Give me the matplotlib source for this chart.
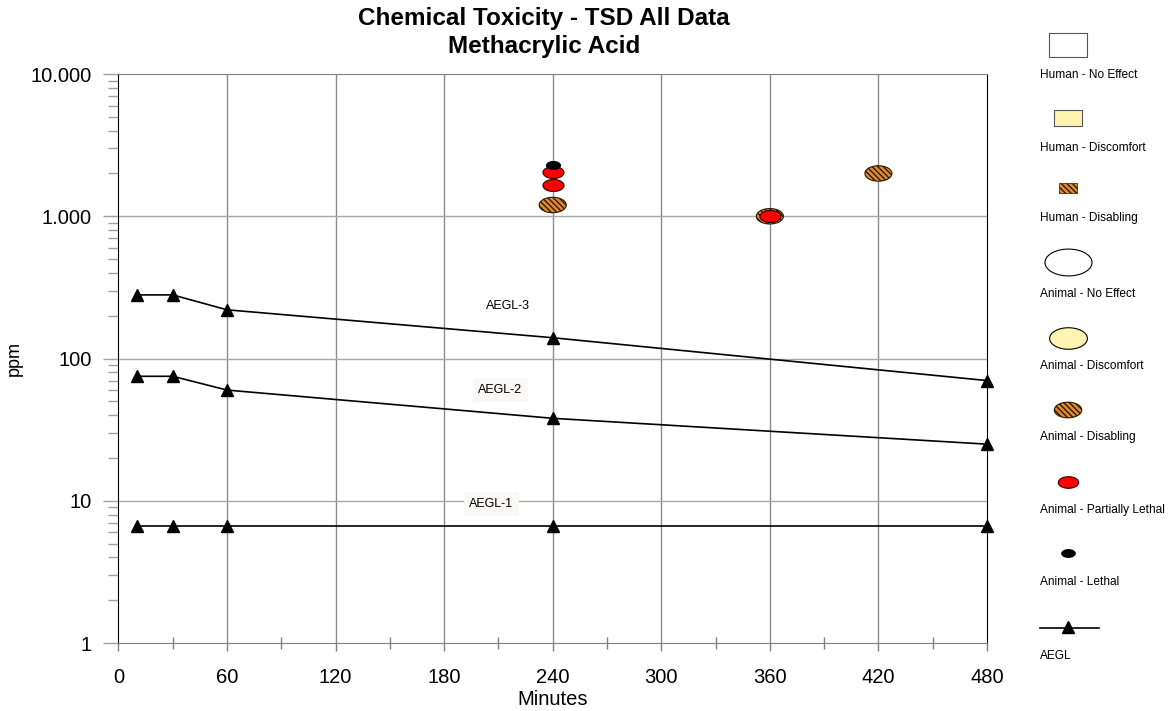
import numpy as np
import matplotlib.pyplot as plt
from matplotlib.path import Path
from matplotlib.ticker import FixedLocator, FuncFormatter

plt.rcParams['font.family'] = ['Liberation Sans', 'DejaVu Sans']
plt.rcParams['hatch.color'] = '#3a2208'
plt.rcParams['hatch.linewidth'] = 1.0

# AEGL levels (ppm) by exposure time (minutes)
aegl_minutes = [10, 30, 60, 240, 480]
aegl_1 = [6.6, 6.6, 6.6, 6.6, 6.6]
aegl_2 = [75, 75, 60, 38, 25]
aegl_3 = [280, 280, 220, 140, 70]

# toxicity observations
disabling_min = [240, 360, 420]
disabling_ppm = [1200, 1000, 2000]
part_lethal_min = [240, 240, 360]
part_lethal_ppm = [1650, 2050, 1000]
lethal_min = [240]
lethal_ppm = [2300]

x_ticks = [0, 60, 120, 180, 240, 300, 360, 420, 480]
y_ticks = [1, 10, 100, 1000, 10000]

BROWN = '#e38b2c'
RED = '#ff0000'
YELLOW = '#fff5b0'
HATCH = '\\\\\\\\\\\\'

# ellipse marker (wider than tall)
t = np.linspace(0, 2 * np.pi, 60)
ell = Path(np.column_stack([np.cos(t), 0.57 * np.sin(t)]), closed=True)
rect = Path([(-1, -0.6), (1, -0.6), (1, 0.6), (-1, 0.6), (-1, -0.6)], closed=True)

fig = plt.figure(figsize=(11.74, 7.11), dpi=100)
ax = fig.add_axes([0.1009, 0.0956, 0.7398, 0.8003])

ax.set_yscale('log')
ax.set_xlim(0, 480)
ax.set_ylim(1, 10000)

# grid
for v in x_ticks[1:-1]:
    ax.axvline(v, color='#8c8c8c', lw=1.0, zorder=1)
for v in y_ticks[1:-1]:
    ax.axhline(v, color='#a8a8a8', lw=1.0, zorder=1)

# AEGL lines
for vals in [aegl_1, aegl_2, aegl_3]:
    ax.plot(aegl_minutes, vals, color='black', lw=1.2, marker='^', ms=8,
            mfc='black', mec='black', zorder=3, clip_on=False)

ax.text(215, 234, 'AEGL-3', fontsize=9, ha='center', va='center', zorder=4)
ax.text(211, 60, 'AEGL-2', fontsize=9, ha='center', va='center', zorder=4,
        bbox=dict(boxstyle='square,pad=0.45', fc='#faf8f5', ec='none'))
ax.text(206, 9.5, 'AEGL-1', fontsize=9, ha='center', va='center', zorder=4,
        bbox=dict(boxstyle='square,pad=0.45', fc='#faf8f5', ec='none'))

# observations
ax.scatter(disabling_min, disabling_ppm, marker=ell, s=380, c=BROWN,
           edgecolors='#2a1a08', linewidths=0.8, hatch=HATCH, zorder=5)
ax.scatter(part_lethal_min, part_lethal_ppm, marker=ell, s=230, c=RED,
           edgecolors='#300000', linewidths=0.8, zorder=6)
ax.scatter(lethal_min, lethal_ppm, marker=ell, s=100, c='black',
           edgecolors='black', linewidths=0.8, zorder=7)

# axes styling
ax.set_xticks(x_ticks)
ax.xaxis.set_minor_locator(FixedLocator(np.arange(30, 480, 60)))
ax.set_yticks(y_ticks)
ax.yaxis.set_major_formatter(FuncFormatter(lambda v, p: f'{int(round(v)):,}'.replace(',', '.')))
ax.tick_params(axis='x', which='major', direction='out', length=6, width=1,
               color='#808080', labelsize=14.5, pad=12)
ax.tick_params(axis='x', which='minor', direction='inout', length=8, width=1,
               color='#808080')
ax.tick_params(axis='y', which='major', direction='out', length=11, width=1,
               color='#a0a0a0', labelsize=14.5, pad=8)
ax.tick_params(axis='y', which='minor', direction='out', length=7.5, width=1,
               color='#a0a0a0', labelleft=False)
ax.spines['left'].set_color('black')
ax.spines['right'].set_color('black')
ax.spines['top'].set_color('#808080')
ax.spines['bottom'].set_color('#808080')

ax.set_xlabel('Minutes', fontsize=14.5, labelpad=2)
ax.set_ylabel('ppm', fontsize=13, labelpad=6)
ax.set_title('Chemical Toxicity - TSD All Data\nMethacrylic Acid', fontsize=17.5,
             fontweight='bold', pad=15, linespacing=1.3, x=0.49)

# legend drawn in a pixel-space overlay on the right
lg = fig.add_axes([0, 0, 1, 1], facecolor='none')
lg.set_xlim(0, 1174)
lg.set_ylim(711, 0)
lg.axis('off')

leg_labels = ['Human - No Effect', 'Human - Discomfort', 'Human - Disabling',
              'Animal - No Effect', 'Animal - Discomfort', 'Animal - Disabling',
              'Animal - Partially Lethal', 'Animal - Lethal', 'AEGL']
key_y = [45, 118, 188, 262, 338, 410, 482, 553, 628]
lab_y = [75, 148, 218, 294, 366, 437, 510, 582, 656]
key_x = 1068
keys = [
    dict(marker=rect, s=780, c='white', edgecolors='#555555', linewidths=0.8),
    dict(marker=rect, s=400, c=YELLOW, edgecolors='#555555', linewidths=0.8),
    dict(marker=rect, s=150, c=BROWN, edgecolors='#2a1a08', linewidths=0.5, hatch=HATCH),
    dict(marker=ell, s=1150, c='white', edgecolors='black', linewidths=0.8),
    dict(marker=ell, s=740, c=YELLOW, edgecolors='black', linewidths=0.8),
    dict(marker=ell, s=390, c=BROWN, edgecolors='#2a1a08', linewidths=0.8, hatch=HATCH),
    dict(marker=ell, s=215, c=RED, edgecolors='#300000', linewidths=0.8),
    dict(marker=ell, s=95, c='black', edgecolors='black', linewidths=0.8),
]
for ky, kw in zip(key_y[:-1], keys):
    lg.scatter([key_x], [ky], **kw)
lg.plot([1040, 1099], [key_y[-1], key_y[-1]], color='black', lw=1.2)
lg.plot([key_x], [key_y[-1] - 1], marker='^', ms=8, color='black')
for ly, txt in zip(lab_y, leg_labels):
    lg.text(1040, ly, txt, fontsize=8.6, ha='left', va='center')

fig.savefig('out.png', dpi=100)
